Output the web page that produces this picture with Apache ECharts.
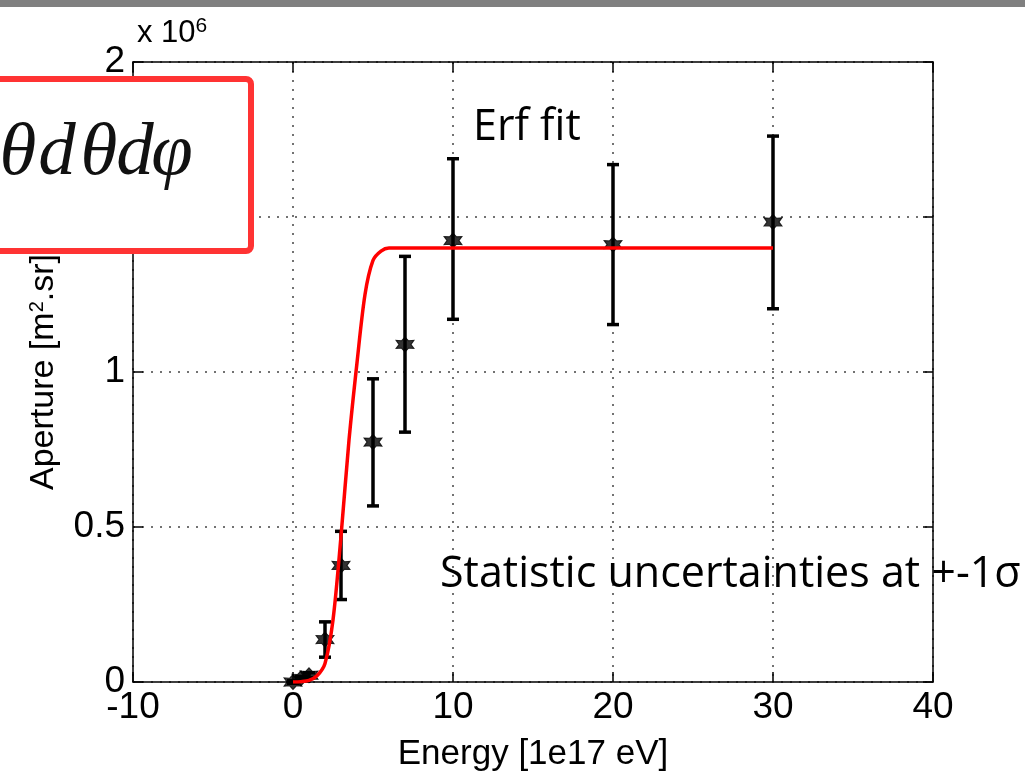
<!DOCTYPE html>
<html>
<head>
<meta charset="utf-8">
<script src="https://cdn.jsdelivr.net/npm/echarts@6/dist/echarts.min.js"></script>
<style>html,body{margin:0;padding:0;background:#fff}#c{width:1025px;height:777px}</style>
</head>
<body>
<div id="c"></div>
<script>
// Data (aperture in units of 1e6 m^2.sr, energy in 1e17 eV)
var energy = [0, 0.5, 1, 2, 3, 5, 7, 10, 20, 30];
var aperture = [0.0, 0.012, 0.022, 0.137, 0.376, 0.774, 1.089, 1.424, 1.411, 1.484];
var errLow = [0.004, 0.006, 0.008, 0.057, 0.11, 0.206, 0.283, 0.254, 0.258, 0.28];
var errHigh = [0.004, 0.006, 0.008, 0.057, 0.11, 0.204, 0.284, 0.264, 0.258, 0.277];
var fitX = [0, 0.5, 1, 1.5, 2, 2.5, 3, 3.5, 4, 4.5, 5, 5.5, 6, 7, 10, 20, 30];
var fitY = [0, 0.001, 0.005, 0.02, 0.06, 0.2, 0.47, 0.78, 1.03, 1.25, 1.36, 1.39, 1.40, 1.40, 1.40, 1.40, 1.40];
var xTicks = [-10, 0, 10, 20, 30, 40];
var yTicks = [0, 0.5, 1, 1.5, 2];
var formulaGlyphs = ['θ', 'd', 'θ', 'd', 'φ'];

var pts = energy.map(function (e, i) { return [e, aperture[i]]; });
var bars = energy.map(function (e, i) { return [e, aperture[i] - errLow[i], aperture[i] + errHigh[i]]; });
var fit = fitX.map(function (x, i) { return [x, fitY[i]]; });

var chart = echarts.init(document.getElementById('c'), null, {renderer: 'canvas'});
var labelFont = {color: '#000', fontFamily: 'Liberation Sans, Arial, sans-serif', fontSize: 37};
var gridDots = {show: true, lineStyle: {color: '#444', type: [2, 7], width: 1.5}};

var glyphX = [18, 57, 99, 135, 172];
var formula = formulaGlyphs.map(function (g, i) {
  return {type: 'text', z: 101, x: glyphX[i], y: 192,
    style: {text: g, fill: '#111', font: 'italic 75px "Liberation Serif", "Times New Roman", serif',
      textAlign: 'center', textVerticalAlign: 'bottom'}};
});

chart.setOption({
  animation: false,
  backgroundColor: '#fff',
  grid: {left: 133, right: 92, top: 62, bottom: 87},
  xAxis: [{
    type: 'value', min: -10, max: 40, interval: 10,
    axisLine: {show: true, onZero: false, lineStyle: {color: '#000', width: 1.5}},
    axisTick: {show: true, inside: true, length: 10, lineStyle: {color: '#000', width: 1.5}},
    axisLabel: Object.assign({margin: 7, formatter: function (v) { return xTicks.indexOf(v) >= 0 ? String(v) : ''; }}, labelFont),
    splitLine: gridDots,
    name: 'Energy [1e17 eV]', nameLocation: 'middle', nameGap: 55,
    nameTextStyle: {color: '#000', fontFamily: 'Liberation Sans, Arial, sans-serif', fontSize: 35}
  }, {
    type: 'value', position: 'top', min: -10, max: 40, interval: 10,
    axisLine: {show: true, onZero: false, lineStyle: {color: '#000', width: 1.5}},
    axisTick: {show: true, inside: true, length: 10, lineStyle: {color: '#000', width: 1.5}},
    axisLabel: {show: false}, splitLine: {show: false}
  }],
  yAxis: [{
    type: 'value', min: 0, max: 2, interval: 0.5,
    axisLine: {show: true, onZero: false, lineStyle: {color: '#000', width: 1.5}},
    axisTick: {show: true, inside: true, length: 10, lineStyle: {color: '#000', width: 1.5}},
    axisLabel: Object.assign({margin: 8, formatter: function (v) { return yTicks.indexOf(v) >= 0 ? String(v) : ''; }}, labelFont),
    splitLine: gridDots,
    name: 'Aperture [m{sup|2}.sr]', nameLocation: 'middle', nameGap: 72, nameRotate: 90,
    nameTextStyle: {color: '#000', fontFamily: 'Liberation Sans, Arial, sans-serif', fontSize: 34,
      rich: {sup: {fontSize: 20, verticalAlign: 'top', padding: [0, 0, 14, 0], color: '#000', fontFamily: 'Liberation Sans, Arial, sans-serif'}}}
  }, {
    type: 'value', position: 'right', min: 0, max: 2, interval: 0.5,
    axisLine: {show: true, onZero: false, lineStyle: {color: '#000', width: 1.5}},
    axisTick: {show: true, inside: true, length: 10, lineStyle: {color: '#000', width: 1.5}},
    axisLabel: {show: false}, splitLine: {show: false}
  }],
  series: [{
    type: 'custom', name: 'errors', z: 3,
    data: bars,
    renderItem: function (params, api) {
      var x = api.value(0);
      var lo = api.coord([x, api.value(1)]);
      var hi = api.coord([x, api.value(2)]);
      var cap = 6;
      var st = {stroke: '#000', lineWidth: 3.5};
      return {type: 'group', children: [
        {type: 'line', shape: {x1: lo[0], y1: lo[1], x2: hi[0], y2: hi[1]}, style: st},
        {type: 'line', shape: {x1: lo[0] - cap, y1: lo[1], x2: lo[0] + cap, y2: lo[1]}, style: st},
        {type: 'line', shape: {x1: hi[0] - cap, y1: hi[1], x2: hi[0] + cap, y2: hi[1]}, style: st}
      ]};
    }
  }, {
    type: 'scatter', name: 'data', z: 4,
    data: pts,
    symbol: 'path://M0,-10 L3.5,-5 L9,-5.5 L6,0 L9,5.5 L3.5,5 L0,10 L-3.5,5 L-9,5.5 L-6,0 L-9,-5.5 L-3.5,-5 Z',
    symbolSize: [18, 15],
    itemStyle: {color: '#000', borderColor: '#000', borderWidth: 1}
  }, {
    type: 'line', name: 'Erf fit', z: 5,
    data: fit, smooth: 0.3, showSymbol: false, symbol: 'none',
    lineStyle: {color: '#ff0000', width: 3.5}
  }],
  graphic: [
    {type: 'rect', z: 100, shape: {x: 0, y: 0, width: 1025, height: 7}, style: {fill: '#808080'}},
    {type: 'text', z: 100, left: 137, top: 16,
      style: {text: 'x 10{sup|6}', fill: '#000', font: '31px "Liberation Sans", Arial, sans-serif',
        rich: {sup: {fontSize: 21, verticalAlign: 'top', padding: [0, 0, 14, 0], fill: '#000', fontFamily: 'Liberation Sans'}}}},
    {type: 'rect', z: 100, shape: {x: -10, y: 79, width: 261, height: 172, r: 5},
      style: {fill: '#fff', stroke: '#ff3333', lineWidth: 6}},
    {type: 'text', z: 100, x: 473, y: 106,
      style: {text: 'Erf fit', fill: '#000', font: '43px "Open Sans", sans-serif'}},
    {type: 'text', z: 100, x: 440, y: 553,
      style: {text: 'Statistic uncertainties at +-1σ', fill: '#000', font: '43px "Open Sans", sans-serif'}}
  ].concat(formula)
});
</script>
</body>
</html>
